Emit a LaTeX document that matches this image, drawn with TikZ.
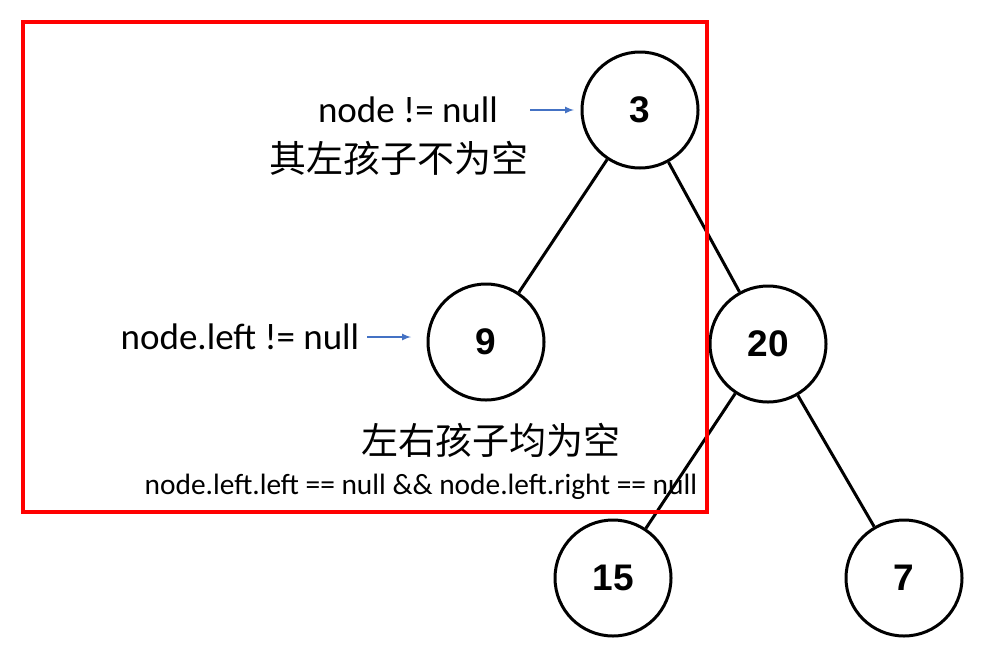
\documentclass[tikz,border=0pt]{standalone}
\usepackage{fontspec}
\setmainfont{Carlito}
\newfontfamily\numfont{Liberation Sans}
\newfontfamily\cjk{Noto Sans CJK SC}
\usetikzlibrary{arrows}
\tikzset{treenode/.style={circle,line width=3pt,draw=black,minimum size=116pt,inner sep=0pt,font=\numfont\bfseries\fontsize{37}{37}\selectfont},
  note/.style={font=\fontsize{37}{37}\selectfont,inner sep=0pt},
  cnote/.style={font=\cjk\fontsize{37}{37}\selectfont,inner sep=0pt},
  pointer/.style={->,>=latex,line width=2pt,draw={rgb,255:red,68;green,114;blue,196}}}
\begin{document}
\begin{tikzpicture}[x=1pt,y=-1pt]
  \useasboundingbox (0,0) rectangle (988,670);
  % tree
  \node (n3)  [treenode] at (640,110) {3};
  \node (n9)  [treenode] at (486,342) {9};
  \node (n20) [treenode] at (768,344) {20};
  \node (n15) [treenode] at (613,578) {15};
  \node (n7)  [treenode] at (904,578) {7};
  \path[draw,line width=3pt]
  (n3) edge (n9)
  (n3) edge (n20)
  (n20) edge (n15)
  (n20) edge (n7);
  % frame
  \draw[red,line width=4pt] (23,22) rectangle (707,512);
  % notes
  \node (root)   [note]  at (408,110) {node != null};
  \node (rootcn) [cnote] at (399,158) {其左孩子不为空};
  \node (left)   [note]  at (240,337) {node.left != null};
  \node (leafcn) [cnote] at (491,440) {左右孩子均为空};
  \node (leaf)   [note,font=\fontsize{29.4}{29.4}\selectfont] at (421,487) {node.left.left == null \&\& node.left.right == null};
  \coordinate (a3) at (574,110);
  \coordinate (a9) at (411,337);
  \draw[pointer] (root.east) ++(32,0) coordinate (s3) (s3) -- (a3);
  \draw[pointer] (left.east) ++(8,0) coordinate (s9) (s9) -- (a9);
\end{tikzpicture}
\end{document}
